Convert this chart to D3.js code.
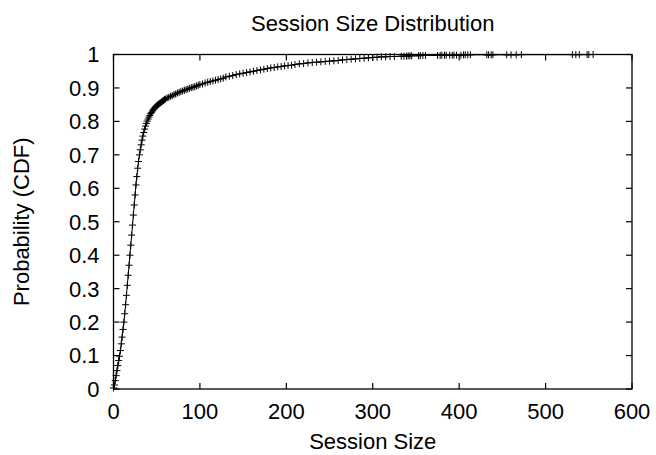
<!DOCTYPE html>
<html lang="en">
<head>
    <meta charset="UTF-8">
    <title>Session Size Distribution</title>
    <script src="https://d3js.org/d3.v7.min.js"></script>
    <style>
        body { margin: 0; background: #fff; }
        svg { display: block; }
        text {
            font-family: "Liberation Sans", Arial, Helvetica, sans-serif;
            font-size: 22px;
            fill: #000;
        }
        .frame { fill: none; stroke: #000; stroke-width: 1.3; }
        .tick-mark { stroke: #000; stroke-width: 1.2; }
        .cdf-line { fill: none; stroke: #000; stroke-width: 1; }
        .cdf-point { stroke: #000; stroke-width: 1; }
    </style>
</head>
<body>
<script>
    const width = 656;
    const height = 455;

    // session sizes (x) and their cumulative probability (y)
    const sessionSizes = [
        0, 1, 2, 3, 4, 5, 6, 7, 8, 9,
        10, 11, 12, 13, 14, 15, 16, 17, 18, 19,
        20, 21, 22, 23, 24, 25, 26, 27, 28, 29,
        30, 31, 32, 33, 34, 35, 36, 37, 38, 39,
        40, 41, 42, 43, 44, 45, 46, 47, 48, 49,
        50, 51, 52, 53, 54, 55, 56, 57, 58, 59,
        60, 62, 64, 66, 68, 70, 72, 74, 76, 78,
        80, 82, 84, 86, 88, 90, 92, 94, 96, 98,
        100, 103, 106, 109, 112, 115, 118, 121, 124, 127,
        130, 134, 138, 142, 146, 150, 154, 158, 162, 166,
        170, 174, 178, 182, 186, 190, 194, 198, 202, 206,
        210, 215, 220, 225, 230, 235, 240, 245, 250, 255,
        260, 265, 270, 275, 280, 285, 290, 295, 300, 305,
        310, 315, 320, 325, 333, 336, 339, 341, 343, 345,
        353, 355, 358, 361, 375, 378, 380, 383, 385, 389,
        392, 394, 397, 402, 405, 407, 410, 413, 432, 434,
        437, 439, 455, 460, 466, 472, 531, 535, 539, 548,
        550, 555
    ];
    const cdfValues = [
        0.003, 0.012, 0.025, 0.04, 0.055, 0.07, 0.085, 0.098, 0.115, 0.135,
        0.155, 0.178, 0.2, 0.225, 0.252, 0.28, 0.31, 0.34, 0.37, 0.40,
        0.43, 0.46, 0.49, 0.52, 0.55, 0.58, 0.61, 0.635, 0.66, 0.68,
        0.70, 0.715, 0.73, 0.744, 0.756, 0.767, 0.777, 0.786, 0.794, 0.801,
        0.807, 0.813, 0.818, 0.823, 0.827, 0.831, 0.835, 0.838, 0.841, 0.844,
        0.847, 0.849, 0.851, 0.853, 0.855, 0.857, 0.859, 0.861, 0.863, 0.865,
        0.867, 0.87, 0.872, 0.875, 0.877, 0.88, 0.882, 0.885, 0.887, 0.889,
        0.891, 0.893, 0.895, 0.897, 0.899, 0.901, 0.902, 0.904, 0.906, 0.908,
        0.91, 0.912, 0.915, 0.917, 0.919, 0.921, 0.923, 0.925, 0.927, 0.929,
        0.933, 0.935, 0.937, 0.94, 0.942, 0.944, 0.946, 0.948, 0.95, 0.952,
        0.954, 0.956, 0.958, 0.96, 0.961, 0.963, 0.964, 0.966, 0.967, 0.968,
        0.97, 0.972, 0.973, 0.975, 0.976, 0.977, 0.978, 0.979, 0.98, 0.981,
        0.982, 0.984, 0.985, 0.986, 0.987, 0.988, 0.989, 0.99, 0.991, 0.992,
        0.993, 0.993, 0.994, 0.994, 0.995, 0.995, 0.995, 0.996, 0.996, 0.996,
        0.996, 0.997, 0.997, 0.997, 0.997, 0.997, 0.998, 0.998, 0.998, 0.998,
        0.998, 0.998, 0.998, 0.998, 0.999, 0.999, 0.999, 0.999, 0.999, 0.999,
        0.999, 0.999, 0.999, 0.999, 0.999, 0.9995, 0.9995, 0.9995, 0.9995, 0.9997,
        0.9998, 1
    ];

    const xTicks = [0, 100, 200, 300, 400, 500, 600];
    const yTicks = [0, 0.1, 0.2, 0.3, 0.4, 0.5, 0.6, 0.7, 0.8, 0.9, 1];

    const titleText = "Session Size Distribution";
    const xLabel = "Session Size";
    const yLabel = "Probability (CDF)";

    const margin = {top: 54.5, right: 24, bottom: 66, left: 113.5};
    const innerW = width - margin.left - margin.right;
    const innerH = height - margin.top - margin.bottom;
    const tickLen = 6;

    const points = sessionSizes.map((s, i) => ({x: s, y: cdfValues[i]}));

    const svg = d3.select("body").append("svg")
            .attr("width", width).attr("height", height);

    const x = d3.scaleLinear().domain([0, 600]).range([margin.left, margin.left + innerW]);
    const y = d3.scaleLinear().domain([0, 1]).range([margin.top + innerH, margin.top]);

    // inward ticks on all four sides (gnuplot mirror style)
    const ticks = svg.append("g");
    xTicks.forEach(t => {
        ticks.append("line").attr("class", "tick-mark")
            .attr("x1", x(t)).attr("x2", x(t))
            .attr("y1", y(0)).attr("y2", y(0) - tickLen);
        ticks.append("line").attr("class", "tick-mark")
            .attr("x1", x(t)).attr("x2", x(t))
            .attr("y1", y(1)).attr("y2", y(1) + tickLen);
        ticks.append("text")
            .attr("x", x(t)).attr("y", 419)
            .attr("text-anchor", "middle")
            .text(t);
    });
    yTicks.forEach(t => {
        ticks.append("line").attr("class", "tick-mark")
            .attr("x1", x(0)).attr("x2", x(0) + tickLen)
            .attr("y1", y(t)).attr("y2", y(t));
        ticks.append("line").attr("class", "tick-mark")
            .attr("x1", x(600)).attr("x2", x(600) - tickLen)
            .attr("y1", y(t)).attr("y2", y(t));
        ticks.append("text")
            .attr("x", x(0) - 14).attr("y", y(t))
            .attr("dy", "0.36em")
            .attr("text-anchor", "end")
            .text(d3.format("~g")(t));
    });

    svg.append("rect").attr("class", "frame")
        .attr("x", x(0)).attr("y", y(1))
        .attr("width", x(600) - x(0)).attr("height", y(0) - y(1));

    const line = d3.line().x(d => x(d.x)).y(d => y(d.y));
    svg.append("path").datum(points)
        .attr("class", "cdf-line")
        .attr("d", line);

    const arm = 3.5;
    svg.selectAll("path.cdf-point")
        .data(points)
        .enter()
        .append("path")
        .attr("class", "cdf-point")
        .attr("d", d => `M${x(d.x) - arm},${y(d.y)}h${2 * arm}M${x(d.x)},${y(d.y) - arm}v${2 * arm}`);

    svg.append("text")
        .attr("x", (x(0) + x(600)) / 2).attr("y", 31)
        .attr("text-anchor", "middle")
        .text(titleText);

    svg.append("text")
        .attr("x", (x(0) + x(600)) / 2).attr("y", 449)
        .attr("text-anchor", "middle")
        .text(xLabel);

    svg.append("text")
        .attr("transform", `translate(29,${(y(0) + y(1)) / 2}) rotate(-90)`)
        .attr("text-anchor", "middle")
        .text(yLabel);
</script>
</body>
</html>
